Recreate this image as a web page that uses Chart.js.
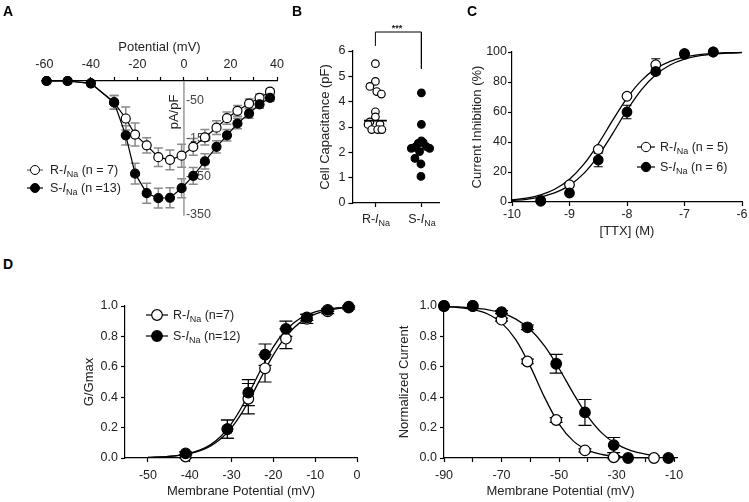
<!DOCTYPE html>
<html><head><meta charset="utf-8">
<script src="https://cdn.jsdelivr.net/npm/chart.js@4.4.0/dist/chart.umd.min.js"></script>
<style>
body{margin:0;background:#fff;width:749px;height:502px;position:relative;overflow:hidden;font-family:"Liberation Sans",Arial,sans-serif;color:#222;}
canvas{position:absolute;}
.t{position:absolute;font-size:12.5px;line-height:16px;height:16px;white-space:nowrap;color:#222;}
.t sub{font-size:9px;vertical-align:-3px;line-height:0;}
.lab{position:absolute;font-weight:bold;font-size:14px;line-height:14px;color:#000;}
.mk{position:absolute;}
</style></head><body>

<canvas id="cA" width="300" height="235" style="left:0;top:0"></canvas>
<canvas id="cB" width="150" height="235" style="left:300px;top:0"></canvas>
<canvas id="cC" width="299" height="240" style="left:450px;top:0"></canvas>
<canvas id="cD1" width="390" height="222" style="left:0;top:280px"></canvas>
<canvas id="cD2" width="359" height="222" style="left:390px;top:280px"></canvas>

<div class="lab" style="left:3px;top:4px">A</div>
<div class="lab" style="left:292px;top:4px">B</div>
<div class="lab" style="left:467px;top:4px">C</div>
<div class="lab" style="left:3px;top:257px">D</div>

<!-- legend A -->
<svg class="mk" style="left:27px;top:162px" width="16" height="16"><line x1="0" y1="8" x2="16" y2="8" stroke="#666" stroke-width="1.2"/><circle cx="8" cy="8" r="4.5" fill="#fff" stroke="#000" stroke-width="1"/></svg>
<div class="t" style="left:50px;top:162px">R-<i>I</i><sub>Na</sub> (n = 7)</div>
<svg class="mk" style="left:27px;top:180px" width="16" height="16"><line x1="0" y1="8" x2="16" y2="8" stroke="#000" stroke-width="1.2"/><circle cx="8" cy="8" r="4.5" fill="#000" stroke="#000" stroke-width="1"/></svg>
<div class="t" style="left:50px;top:180px">S-<i>I</i><sub>Na</sub> (n =13)</div>

<!-- B category labels and significance -->
<div class="t" style="left:356px;top:211px;width:40px;text-align:center">R-<i>I</i><sub>Na</sub></div>
<div class="t" style="left:402px;top:211px;width:40px;text-align:center">S-<i>I</i><sub>Na</sub></div>
<div class="t" style="left:387px;top:20px;width:20px;text-align:center;font-size:9px;font-weight:bold">***</div>

<!-- legend C -->
<svg class="mk" style="left:637px;top:139px" width="18" height="16"><line x1="0" y1="8" x2="18" y2="8" stroke="#000" stroke-width="1.2"/><circle cx="9" cy="8" r="4.7" fill="#fff" stroke="#000" stroke-width="1"/></svg>
<div class="t" style="left:660px;top:139px">R-<i>I</i><sub>Na</sub> (n = 5)</div>
<svg class="mk" style="left:637px;top:159px" width="18" height="16"><line x1="0" y1="8" x2="18" y2="8" stroke="#000" stroke-width="1.2"/><circle cx="9" cy="8" r="4.7" fill="#000" stroke="#000" stroke-width="1"/></svg>
<div class="t" style="left:660px;top:159px">S-<i>I</i><sub>Na</sub> (n = 6)</div>

<!-- legend D left -->
<svg class="mk" style="left:146px;top:307px" width="22" height="16"><line x1="0" y1="8" x2="22" y2="8" stroke="#000" stroke-width="1.2"/><circle cx="11" cy="8" r="5.3" fill="#fff" stroke="#000" stroke-width="1.2"/></svg>
<div class="t" style="left:173px;top:307px">R-<i>I</i><sub>Na</sub> (n=7)</div>
<svg class="mk" style="left:146px;top:328px" width="22" height="16"><line x1="0" y1="8" x2="22" y2="8" stroke="#000" stroke-width="1.2"/><circle cx="11" cy="8" r="5.3" fill="#000" stroke="#000" stroke-width="1.2"/></svg>
<div class="t" style="left:173px;top:328px">S-<i>I</i><sub>Na</sub> (n=12)</div>

<script>
// ---------- Panel A: I-V relationship ----------
const ivVoltage = [-59, -50, -40, -30, -25, -21, -16, -11, -6, -1, 4, 9, 14, 18.5, 23, 28, 32.5, 37];
const ivR       = [0, 0, -6, -56, -98, -140, -168, -199, -206, -195, -172, -147, -122, -97, -78, -59, -44, -28];
const ivRErr    = [0, 0, 3, 18, 30, 30, 20, 24, 26, 30, 22, 20, 18, 16, 14, 12, 10, 8];
const ivS       = [0, 0, -6, -56, -142, -242, -293, -306, -305, -280, -248, -210, -172, -142, -111, -85, -61, -44];
const ivSErr    = [0, 0, 3, 18, 25, 27, 26, 26, 26, 25, 22, 20, 16, 15, 14, 12, 10, 8];
const ivXTicks  = [-60, -50, -40, -30, -20, -10, 0, 10, 20, 30, 40];
const ivXLabels = [-60, -40, -20, 0, 20, 40];
const ivYLabels = [-50, -150, -250, -350];

// ---------- Panel B: cell capacitance ----------
const capCategories = ['R-INa', 'S-INa'];
const capR       = [5.5, 4.8, 4.6, 4.4, 4.3, 3.6, 3.4, 3.2, 3.1, 3.1, 2.9, 2.9, 2.9];
const capRJitter = [0, 0, -0.12, 0.03, 0.13, 0, 0, -0.12, -0.16, 0.1, -0.08, 0.05, 0.14];
const capS       = [4.35, 3.1, 2.45, 2.35, 2.38, 2.2, 2.22, 2.16, 2.16, 2.03, 1.76, 1.54, 1.05];
const capSJitter = [0, 0, 0, -0.07, 0.04, -0.14, 0.11, -0.22, 0.18, -0.04, -0.14, -0.01, -0.01];
const capMedians = [3.25, 2.15];
const capYTicks  = [0, 1, 2, 3, 4, 5, 6];
const sigBracket = [6.2, 6.75, 6.75, 5.3];

// ---------- Panel C: TTX dose-response ----------
const ttxLog   = [-9.5, -9, -8.5, -8, -7.5, -7, -6.5];
const ttxR     = [0.5, 11.5, 35, 70.5, 91.5, 99, 100];
const ttxRErr  = [0.5, 1.5, 1.5, 1.5, 4, 1, 0.5];
const ttxS     = [1, 6, 28, 60, 87, 98.5, 100];
const ttxSErr  = [1, 1, 4.5, 4.5, 2, 2, 0.5];
const ttxFitX  = [-10, -9.75, -9.5, -9.25, -9, -8.75, -8.5, -8.25, -8, -7.75, -7.5, -7.25, -7, -6.75, -6.5, -6.25, -6];
const ttxFitR  = [1.4, 2.6, 4.8, 8.7, 15.2, 25.2, 38.8, 54.4, 69.2, 80.9, 88.9, 93.8, 96.6, 98.2, 99.0, 99.5, 99.7];
const ttxFitS  = [1.0, 1.8, 3.4, 6.2, 11.1, 19.1, 30.8, 45.6, 61.2, 74.8, 84.8, 91.3, 95.2, 97.4, 98.6, 99.3, 99.6];
const ttxXTicks = [-10, -9, -8, -7, -6];
const ttxYTicks = [0, 20, 40, 60, 80, 100];

// ---------- Panel D left: activation ----------
const actV    = [-41, -31, -26, -22, -17, -12, -7, -2];
const actR    = [0.01, 0.19, 0.39, 0.59, 0.785, 0.915, 0.965, 0.99];
const actRErr = [0.01, 0.06, 0.1, 0.09, 0.065, 0.03, 0.015, 0.01];
const actS    = [0.03, 0.19, 0.43, 0.68, 0.85, 0.925, 0.975, 0.995];
const actSErr = [0.01, 0.06, 0.085, 0.07, 0.05, 0.02, 0.01, 0.005];
const actFitV = [-50, -45, -40, -37.5, -35, -32.5, -30, -27.5, -25, -22.5, -20, -17.5, -15, -12.5, -10, -7.5, -5, -2.5, -1];
const actFitR = [0.0035, 0.0102, 0.029, 0.048, 0.080, 0.128, 0.200, 0.299, 0.421, 0.553, 0.678, 0.782, 0.859, 0.912, 0.946, 0.968, 0.981, 0.989, 0.991];
const actFitS = [0.0035, 0.0104, 0.031, 0.053, 0.088, 0.145, 0.228, 0.339, 0.472, 0.609, 0.731, 0.826, 0.892, 0.935, 0.962, 0.978, 0.987, 0.993, 0.995];
const actXTicks = [-50, -40, -30, -20, -10, 0];
const normYTicks = [0, 0.2, 0.4, 0.6, 0.8, 1.0];

// ---------- Panel D right: inactivation ----------
const inaRV   = [-90, -80, -70, -61, -51, -41, -31, -17];
const inaR    = [1.0, 1.0, 0.91, 0.635, 0.25, 0.05, 0.005, 0.0];
const inaRErr = [0, 0, 0.01, 0.015, 0.015, 0.01, 0.01, 0];
const inaSV   = [-90, -80, -70, -61, -51, -41, -31, -26, -12];
const inaS    = [1.0, 1.0, 0.96, 0.86, 0.62, 0.30, 0.085, 0.0, 0.0];
const inaSErr = [0, 0, 0.01, 0.015, 0.062, 0.085, 0.05, 0, 0];
const inaFitV = [-90, -85, -80, -75, -70, -65, -60, -55, -50, -45, -40, -35, -30, -25, -20, -15];
const inaFitR = [0.996, 0.990, 0.977, 0.949, 0.889, 0.777, 0.603, 0.397, 0.223, 0.111, 0.051, 0.023, 0.010, 0.004, 0.002, 0.001];
const inaFitS = [0.997, 0.994, 0.987, 0.976, 0.954, 0.914, 0.845, 0.736, 0.589, 0.424, 0.274, 0.162, 0.091, 0.049, 0.026, 0.013];
const inaXTicks  = [-90, -80, -70, -60, -50, -40, -30, -20, -10];
const inaXLabels = [-90, -70, -50, -30, -10];

// ======================================================
const FONT = "'Liberation Sans', Arial, sans-serif";
Chart.defaults.font.family = FONT;
Chart.defaults.font.size = 12.5;
Chart.defaults.color = '#222';

const pts = (xs, ys) => xs.map((x, i) => ({x: x, y: ys[i]}));

const errorBars = {
  id: 'errorBars',
  beforeDatasetsDraw(chart) {
    const ctx = chart.ctx, ys = chart.scales.y;
    chart.data.datasets.forEach((ds, i) => {
      if (!ds.errors) return;
      const meta = chart.getDatasetMeta(i);
      ctx.save();
      ctx.strokeStyle = ds.errColor || '#000';
      ctx.lineWidth = ds.errWidth || 1.2;
      meta.data.forEach((pt, j) => {
        const e = ds.errors[j];
        if (!e) return;
        const v = ds.data[j].y;
        const y1 = ys.getPixelForValue(v + e), y2 = ys.getPixelForValue(v - e);
        const x = pt.x, c = ds.capHalf || 4;
        ctx.beginPath();
        ctx.moveTo(x, y1); ctx.lineTo(x, y2);
        ctx.moveTo(x - c, y1); ctx.lineTo(x + c, y1);
        ctx.moveTo(x - c, y2); ctx.lineTo(x + c, y2);
        ctx.stroke();
      });
      ctx.restore();
    });
  }
};

function xAxis(o) {
  return {
    type: 'linear', position: o.position || 'bottom', min: o.min, max: o.max,
    afterBuildTicks: s => { s.ticks = o.ticks.map(v => ({value: v})); },
    afterFit: s => { s.height = o.h; },
    grid: {display: true, drawOnChartArea: false, drawTicks: true, tickLength: 4, tickColor: '#000', tickWidth: 1.2},
    border: {display: true, color: '#000', width: 1.2},
    ticks: {autoSkip: false, maxRotation: 0, padding: o.pad, color: '#222', font: {size: 12.5},
      callback: v => (o.labels ? (o.labels.includes(v) ? String(v) : '') : (o.fmt ? o.fmt(v) : String(v)))},
    title: {display: !!o.title, text: o.title || '', color: '#222', font: {size: 13},
      padding: {top: o.titleTop || 0, bottom: o.titleBottom || 0}}
  };
}
function yAxis(o) {
  return {
    type: 'linear', min: o.min, max: o.max,
    afterBuildTicks: s => { s.ticks = o.ticks.map(v => ({value: v})); },
    afterFit: s => { s.width = o.w; },
    grid: {display: true, drawOnChartArea: false, drawTicks: true, tickLength: 4, tickColor: '#000', tickWidth: 1.2},
    border: {display: true, color: '#000', width: 1.2},
    ticks: {autoSkip: false, padding: o.pad, color: '#222', font: {size: 12.5},
      callback: v => (o.fmt ? o.fmt(v) : String(v))},
    title: {display: !!o.title, text: o.title || '', color: '#222', font: {size: 13},
      padding: {top: o.titleTop || 0, bottom: 0}}
  };
}
const baseOpts = (pad) => ({
  responsive: false, animation: false, events: [],
  layout: {padding: pad},
  plugins: {legend: {display: false}, tooltip: {enabled: false}}
});
function pointSet(label, data, filled, r, errs, extra) {
  return Object.assign({
    label: label, data: data, errors: errs,
    showLine: false, pointRadius: r, pointHoverRadius: r,
    pointBackgroundColor: filled ? '#000' : '#fff', pointBorderColor: '#000', pointBorderWidth: 1.2,
    borderColor: '#000', borderWidth: 1.2, clip: false, order: filled ? 0 : 1
  }, extra || {});
}
function fitSet(label, data) {
  return {label: label, data: data, showLine: true, pointRadius: 0, borderColor: '#000', borderWidth: 1.3,
    cubicInterpolationMode: 'monotone', clip: false, order: 3};
}

// ---------- A ----------
const aYAxis = {
  id: 'aYAxis',
  beforeDatasetsDraw(chart) {
    const {ctx, scales: {x, y}} = chart;
    const px = x.getPixelForValue(0);
    ctx.save();
    ctx.strokeStyle = '#9a9a9a'; ctx.lineWidth = 1.5;
    ctx.beginPath(); ctx.moveTo(px, y.getPixelForValue(0)); ctx.lineTo(px, y.getPixelForValue(-352)); ctx.stroke();
    ctx.fillStyle = '#444'; ctx.font = '12.5px ' + FONT; ctx.textBaseline = 'middle'; ctx.textAlign = 'left';
    ivYLabels.forEach(v => ctx.fillText(String(v), px + 2, y.getPixelForValue(v)));
    ctx.translate(px - 10, y.getPixelForValue(-81));
    ctx.rotate(-Math.PI / 2);
    ctx.textAlign = 'center'; ctx.fillStyle = '#222'; ctx.font = '13px ' + FONT;
    ctx.fillText('pA/pF', 0, 0);
    ctx.restore();
  }
};
new Chart(document.getElementById('cA'), {
  type: 'scatter',
  data: {datasets: [
    pointSet('S-INa (n =13)', pts(ivVoltage, ivS), true, 4.5, ivSErr, {showLine: true, errColor: '#8a8a8a', errWidth: 1.5, capHalf: 4.5}),
    pointSet('R-INa (n = 7)', pts(ivVoltage, ivR), false, 4.5, ivRErr, {showLine: true, errColor: '#8a8a8a', errWidth: 1.5, capHalf: 4.5})
  ]},
  options: Object.assign(baseOpts({left: 42, right: 23, top: 0, bottom: 20}), {
    scales: {
      x: xAxis({position: 'top', min: -61, max: 40, ticks: ivXTicks, labels: ivXLabels, h: 81, pad: 5,
        title: 'Potential (mV)', titleTop: 40}),
      y: {type: 'linear', display: false, min: -350, max: 0}
    }
  }),
  plugins: [errorBars, aYAxis]
});

// ---------- B ----------
new Chart(document.getElementById('cB'), {
  type: 'scatter',
  data: {datasets: [
    {label: 'median R', data: [{x: 0.75, y: capMedians[0]}, {x: 1.25, y: capMedians[0]}], showLine: true, pointRadius: 0, borderColor: '#000', borderWidth: 1.6, order: -1},
    {label: 'median S', data: [{x: 1.75, y: capMedians[1]}, {x: 2.25, y: capMedians[1]}], showLine: true, pointRadius: 0, borderColor: '#000', borderWidth: 1.6, order: -1},
    pointSet(capCategories[1], pts(capSJitter.map(j => 2 + j), capS), true, 3.8, null),
    pointSet(capCategories[0], pts(capRJitter.map(j => 1 + j), capR), false, 3.8, null),
    {label: 'significance', data: [{x: 1, y: sigBracket[0]}, {x: 1, y: sigBracket[1]}, {x: 2, y: sigBracket[2]}, {x: 2, y: sigBracket[3]}],
      showLine: true, pointRadius: 0, borderColor: '#000', borderWidth: 1, clip: false, order: 5}
  ]},
  options: Object.assign(baseOpts({left: 0, right: 10.2, top: 51, bottom: 0}), {
    scales: {
      x: xAxis({min: 0.5, max: 2.4, ticks: [1, 2], labels: [], h: 32, pad: 2}),
      y: yAxis({min: 0, max: 6, ticks: capYTicks, w: 52.4, pad: 3, title: 'Cell Capacitance (pF)', titleTop: 18})
    }
  })
});

// ---------- C ----------
new Chart(document.getElementById('cC'), {
  type: 'scatter',
  data: {datasets: [
    pointSet('S-INa (n = 6)', pts(ttxLog, ttxS), true, 4.8, ttxSErr, {capHalf: 4.5}),
    pointSet('R-INa (n = 5)', pts(ttxLog, ttxR), false, 4.8, ttxRErr, {capHalf: 4.5}),
    fitSet('R fit', pts(ttxFitX, ttxFitR)),
    fitSet('S fit', pts(ttxFitX, ttxFitS))
  ]},
  options: Object.assign(baseOpts({left: 0, right: 7, top: 52, bottom: 0}), {
    scales: {
      x: xAxis({min: -10, max: -6, ticks: ttxXTicks, h: 38, pad: 1, title: '[TTX] (M)', titleBottom: 1}),
      y: yAxis({min: 0, max: 100, ticks: ttxYTicks, w: 62, pad: 1, title: 'Current Inhibition (%)', titleTop: 20})
    }
  }),
  plugins: [errorBars]
});

// ---------- D left ----------
new Chart(document.getElementById('cD1'), {
  type: 'scatter',
  data: {datasets: [
    pointSet('S-INa (n=12)', pts(actV, actS), true, 5.3, actSErr, {capHalf: 6.5}),
    pointSet('R-INa (n=7)', pts(actV, actR), false, 5.3, actRErr, {capHalf: 6.5}),
    fitSet('R fit', pts(actFitV, actFitR)),
    fitSet('S fit', pts(actFitV, actFitS))
  ]},
  options: Object.assign(baseOpts({left: 0, right: 33, top: 26, bottom: 0}), {
    scales: {
      x: xAxis({min: -55.5, max: 0, ticks: actXTicks, h: 44, pad: 6, title: 'Membrane Potential (mV)', titleBottom: 3}),
      y: yAxis({min: 0, max: 1, ticks: normYTicks, w: 125, pad: 3, fmt: v => v.toFixed(1), title: 'G/Gmax', titleTop: 82})
    }
  }),
  plugins: [errorBars]
});

// ---------- D right ----------
new Chart(document.getElementById('cD2'), {
  type: 'scatter',
  data: {datasets: [
    pointSet('S-INa', pts(inaSV, inaS), true, 5.3, inaSErr, {capHalf: 6.5}),
    pointSet('R-INa', pts(inaRV, inaR), false, 5.3, inaRErr, {capHalf: 6.5}),
    fitSet('R fit', pts(inaFitV, inaFitR)),
    fitSet('S fit', pts(inaFitV, inaFitS))
  ]},
  options: Object.assign(baseOpts({left: 0, right: 72, top: 26, bottom: 0}), {
    scales: {
      x: xAxis({min: -90, max: -9, ticks: inaXTicks, labels: inaXLabels, h: 44, pad: 6, title: 'Membrane Potential (mV)', titleBottom: 3}),
      y: yAxis({min: 0, max: 1, ticks: normYTicks, w: 54, pad: 3, fmt: v => v.toFixed(1), title: 'Normalized Current', titleTop: 7})
    }
  }),
  plugins: [errorBars]
});
</script>
</body></html>
